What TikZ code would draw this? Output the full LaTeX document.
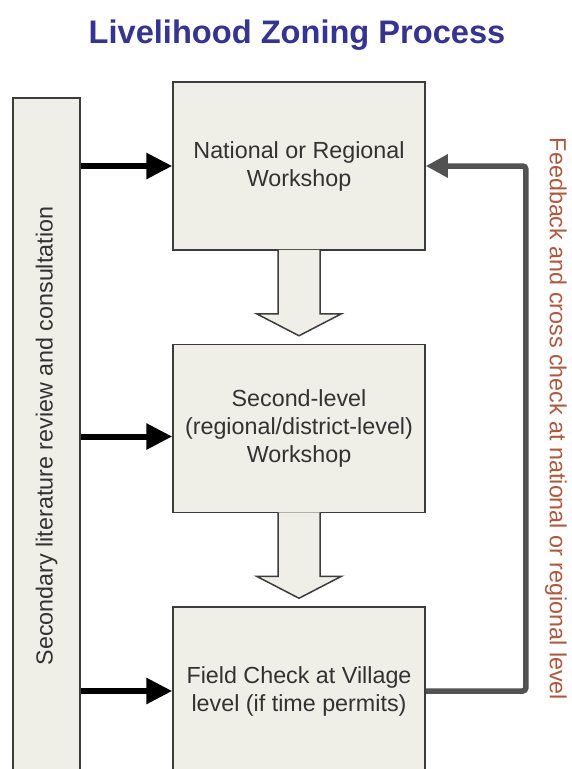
\documentclass[tikz,border=0pt]{standalone}
\usepackage{fontspec}
\setmainfont{Liberation Sans}
\usepackage{tikz}
\usetikzlibrary{positioning,calc,arrows.meta}
\usepackage{xcolor}
\definecolor{boxfill}{RGB}{239,239,232}
\definecolor{boxline}{RGB}{60,60,60}
\definecolor{boxtext}{RGB}{50,50,50}
\definecolor{titleblue}{RGB}{52,52,150}
\definecolor{fbgray}{RGB}{82,82,82}
\definecolor{fbbrown}{RGB}{178,88,58}

\begin{document}
\begin{tikzpicture}[
    x=1pt, y=1pt,
    stagebox/.style={rectangle, draw=boxline, fill=boxfill, line width=1.5pt, minimum width=252pt, minimum height=168pt, align=center, text=boxtext, font=\fontsize{23.3}{28}\selectfont},
    sidebar/.style={rectangle, draw=boxline, fill=boxfill, line width=1.5pt, minimum width=67pt, minimum height=690pt},
    sidelabel/.style={rotate=90, text=boxtext, font=\fontsize{23.3}{28}\selectfont},
    fblabel/.style={rotate=-90, text=fbbrown, font=\fontsize{23.3}{28}\selectfont},
    inarrow/.style={line width=6pt, -{Triangle[length=26pt,width=25pt]}},
    fbarrow/.style={draw=fbgray, line width=5.5pt, rounded corners=3pt, -{Triangle[length=22pt,width=22pt]}},
    blockarrow/.style={draw=boxline, fill=boxfill, line width=1.5pt, line join=miter},
    ]
    \fill[white] (0,0) rectangle (571,-769);
    \clip (0,0) rectangle (571,-769);
    \useasboundingbox (0,0) rectangle (571,-769);

    %Nodes
    \node[anchor=base, text=titleblue, font=\fontsize{32.6}{38}\selectfont\bfseries] (title) at (297,-43) {Livelihood Zoning Process};
    \node[sidebar]  (bar)    at (46.5,-443)          {};
    \node[sidelabel] (barlabel) at ($(bar.center)+(0,7)$) {Secondary literature review and consultation};
    \node[stagebox] (natws)  at (299,-166)           {National or Regional\\Workshop};
    \node[stagebox] (secws)  [below=93pt of natws]   {Second-level\\(regional/district-level)\\Workshop};
    \node[stagebox] (fieldck) [below=93pt of secws]  {Field Check at Village\\level (if time permits)};
    \node[fblabel]  (fbtext) at (556,-419)           {Feedback and cross check at national or regional level};
    \coordinate (secin) at ($(secws.west)+(0,-8)$);

    %Block arrows
    \foreach \a in {natws, secws}
      \draw[blockarrow] ($(\a.south)+(-21,1)$) -- ++(0,-64) -- ++(-21.5,0) -- ++(42.5,-22) -- ++(42.5,22) -- ++(-21.5,0) -- ++(0,64);

    %Lines
    \draw[inarrow] (bar.east |- natws.west) -- (natws.west);
    \draw[inarrow] (bar.east |- secin) -- (secin);
    \draw[inarrow] (bar.east |- fieldck.west) -- (fieldck.west);
    \draw[fbarrow] (fieldck.east) -- ++(100,0) |- (natws.east);
\end{tikzpicture}
\end{document}
